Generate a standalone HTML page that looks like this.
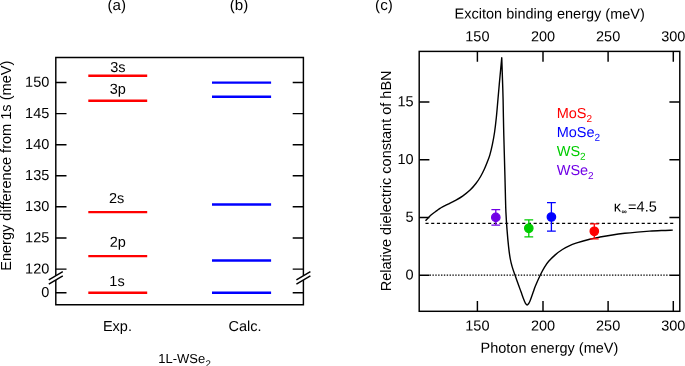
<!DOCTYPE html>
<html><head><meta charset="utf-8"><title>Figure</title>
<style>html,body{margin:0;padding:0;background:#fff}svg{display:block;will-change:transform}text{font-family:"Liberation Sans",sans-serif;fill:#000}</style>
</head><body>
<svg width="685" height="366" viewBox="0 0 685 366">
<rect width="685" height="366" fill="#fff"/>
<g stroke="#000" stroke-width="1.45" fill="none" stroke-linecap="butt">
<path d="M55.8,304.8 V280.0 M55.8,275.8 V57.5 H303.4 V275.8 M303.4,280.0 V304.8 H55.074999999999996"/>
<path d="M55.8,82.5 H66.5 M303.4,82.5 H292.7"/>
<path d="M55.8,113.6 H66.5 M303.4,113.6 H292.7"/>
<path d="M55.8,144.7 H66.5 M303.4,144.7 H292.7"/>
<path d="M55.8,175.8 H66.5 M303.4,175.8 H292.7"/>
<path d="M55.8,206.8 H66.5 M303.4,206.8 H292.7"/>
<path d="M55.8,238.0 H66.5 M303.4,238.0 H292.7"/>
<path d="M55.8,269.1 H66.5 M303.4,269.1 H292.7"/>
<path d="M55.8,292.7 H66.5 M303.4,292.7 H292.7"/>
<path d="M48.8,279.8 L62.8,271.7 M48.8,284.1 L62.8,275.9"/>
<path d="M296.4,279.8 L310.4,271.7 M296.4,284.1 L310.4,275.9"/>
</g>
<text transform="translate(49.3,86.8) rotate(0.03)" font-size="14.5" text-anchor="end">150</text>
<text transform="translate(49.3,117.9) rotate(0.03)" font-size="14.5" text-anchor="end">145</text>
<text transform="translate(49.3,149.0) rotate(0.03)" font-size="14.5" text-anchor="end">140</text>
<text transform="translate(49.3,180.1) rotate(0.03)" font-size="14.5" text-anchor="end">135</text>
<text transform="translate(49.3,211.1) rotate(0.03)" font-size="14.5" text-anchor="end">130</text>
<text transform="translate(49.3,242.3) rotate(0.03)" font-size="14.5" text-anchor="end">125</text>
<text transform="translate(49.3,273.4) rotate(0.03)" font-size="14.5" text-anchor="end">120</text>
<text transform="translate(49.3,297.0) rotate(0.03)" font-size="14.5" text-anchor="end">0</text>
<g stroke-width="2.4" fill="none">
<path stroke="#ff0000" d="M88.3,75.7 H147.2"/>
<path stroke="#ff0000" d="M88.3,100.7 H147.2"/>
<path stroke="#ff0000" d="M88.3,212.1 H147.2"/>
<path stroke="#ff0000" d="M88.3,256.1 H147.2"/>
<path stroke="#ff0000" d="M88.3,292.7 H147.2"/>
<path stroke="#0000ff" d="M212,82.6 H271.1"/>
<path stroke="#0000ff" d="M212,96.7 H271.1"/>
<path stroke="#0000ff" d="M212,204.5 H271.1"/>
<path stroke="#0000ff" d="M212,260.5 H271.1"/>
<path stroke="#0000ff" d="M212,292.7 H271.1"/>
</g>
<text transform="translate(117.8,72.0) rotate(0.03)" font-size="14.5" text-anchor="middle">3s</text>
<text transform="translate(117.8,93.8) rotate(0.03)" font-size="14.5" text-anchor="middle">3p</text>
<text transform="translate(116.7,203.0) rotate(0.03)" font-size="14.5" text-anchor="middle">2s</text>
<text transform="translate(117.8,246.8) rotate(0.03)" font-size="14.5" text-anchor="middle">2p</text>
<text transform="translate(117.0,286.0) rotate(0.03)" font-size="14.5" text-anchor="middle">1s</text>
<text transform="translate(116.7,10.0) rotate(0.03)" font-size="15.1" text-anchor="middle">(a)</text>
<text transform="translate(239.0,10.0) rotate(0.03)" font-size="15.1" text-anchor="middle">(b)</text>
<text transform="translate(383.9,10.0) rotate(0.03)" font-size="15.1" text-anchor="middle">(c)</text>
<text transform="translate(117.4,331) rotate(0.03)" font-size="14.5" text-anchor="middle">Exp.</text>
<text transform="translate(245.0,331) rotate(0.03)" font-size="14.5" text-anchor="middle">Calc.</text>
<text transform="translate(158.2,362.9) rotate(0.03)" font-size="13">1L-WSe<tspan font-size="9.7" dy="4.0" dx="0.3">2</tspan></text>
<text transform="translate(10.7,165.75) rotate(-90)" font-size="14.57" text-anchor="middle">Energy difference from 1s (meV)</text>
<g stroke="#000" stroke-width="1.45" fill="none">
<rect x="419.2" y="51.4" width="260.59999999999997" height="259.90000000000003"/>
<path d="M477.4,51.4 V61.8 M477.4,311.3 V300.90000000000003"/>
<path d="M543.0,51.4 V61.8 M543.0,311.3 V300.90000000000003"/>
<path d="M608.1,51.4 V61.8 M608.1,311.3 V300.90000000000003"/>
<path d="M673.3,51.4 V61.8 M673.3,311.3 V300.90000000000003"/>
<path d="M419.2,102.0 H429.4 M679.8,102.0 H669.4"/>
<path d="M419.2,159.7 H429.4 M679.8,159.7 H669.4"/>
<path d="M419.2,217.4 H429.4 M679.8,217.4 H669.4"/>
<path d="M419.2,275.2 H429.4 M679.8,275.2 H669.4"/>
</g>
<text transform="translate(477.4,41.3) rotate(0.03)" font-size="14.5" text-anchor="middle">150</text>
<text transform="translate(477.4,330.6) rotate(0.03)" font-size="14.5" text-anchor="middle">150</text>
<text transform="translate(543.0,41.3) rotate(0.03)" font-size="14.5" text-anchor="middle">200</text>
<text transform="translate(543.0,330.6) rotate(0.03)" font-size="14.5" text-anchor="middle">200</text>
<text transform="translate(608.1,41.3) rotate(0.03)" font-size="14.5" text-anchor="middle">250</text>
<text transform="translate(608.1,330.6) rotate(0.03)" font-size="14.5" text-anchor="middle">250</text>
<text transform="translate(673.3,41.3) rotate(0.03)" font-size="14.5" text-anchor="middle">300</text>
<text transform="translate(673.3,330.6) rotate(0.03)" font-size="14.5" text-anchor="middle">300</text>
<text transform="translate(413.6,106.3) rotate(0.03)" font-size="14.5" text-anchor="end">15</text>
<text transform="translate(413.6,164.0) rotate(0.03)" font-size="14.5" text-anchor="end">10</text>
<text transform="translate(413.6,221.7) rotate(0.03)" font-size="14.5" text-anchor="end">5</text>
<text transform="translate(413.6,279.5) rotate(0.03)" font-size="14.5" text-anchor="end">0</text>
<text transform="translate(549.7,18.6) rotate(0.03)" font-size="14.5" text-anchor="middle">Exciton binding energy (meV)</text>
<text transform="translate(549.4,352.8) rotate(0.03)" font-size="14.5" text-anchor="middle">Photon energy (meV)</text>
<text transform="translate(391.3,180.9) rotate(-90)" font-size="14.5" text-anchor="middle">Relative dielectric constant of hBN</text>
<path d="M429.6,275.2 H669.4" stroke="#000" stroke-width="1.2" stroke-dasharray="1.4 1.45" fill="none"/>
<path d="M425.5,223.4 H673.5" stroke="#000" stroke-width="1.3" stroke-dasharray="3.1 2.59" fill="none"/>
<path d="M425.50,220.80C425.93,220.33 427.18,218.97 428.10,218.00C429.02,217.03 429.53,216.23 431.00,215.00C432.47,213.77 435.40,211.70 436.90,210.60C438.40,209.50 438.23,209.43 440.00,208.40C441.77,207.37 445.00,205.70 447.50,204.40C450.00,203.10 452.48,201.98 455.00,200.60C457.52,199.22 460.08,197.85 462.60,196.10C465.12,194.35 467.85,192.23 470.10,190.10C472.35,187.97 474.35,185.57 476.10,183.30C477.85,181.03 479.22,178.88 480.60,176.50C481.98,174.12 483.28,171.42 484.40,169.00C485.52,166.58 486.40,164.32 487.30,162.00C488.20,159.68 488.95,158.03 489.80,155.10C490.65,152.17 491.60,148.25 492.40,144.40C493.20,140.55 493.95,136.43 494.60,132.00C495.25,127.57 495.75,123.13 496.30,117.80C496.85,112.47 497.40,105.63 497.90,100.00C498.40,94.37 498.85,89.00 499.30,84.00C499.75,79.00 500.19,74.38 500.60,70.00C501.01,65.62 501.37,61.80 501.75,57.70C502.00,65.13 502.27,72.95 502.50,80.00C502.73,87.05 502.92,92.23 503.10,100.00C503.28,107.77 503.40,117.72 503.60,126.60C503.80,135.48 504.08,145.23 504.30,153.30C504.52,161.37 504.72,168.05 504.90,175.00C505.08,181.95 505.23,188.85 505.40,195.00C505.57,201.15 505.63,206.17 505.90,211.90C506.17,217.63 506.55,223.57 507.00,229.40C507.45,235.23 508.07,242.05 508.60,246.90C509.13,251.75 509.60,255.17 510.20,258.50C510.80,261.83 511.42,264.18 512.20,266.90C512.98,269.62 513.80,271.65 514.90,274.80C516.00,277.95 517.78,282.97 518.80,285.80C519.82,288.63 520.30,289.85 521.00,291.80C521.70,293.75 522.43,295.97 523.00,297.50C523.57,299.03 523.97,300.00 524.40,301.00C524.83,302.00 525.15,302.83 525.60,303.50C526.05,304.17 526.58,305.00 527.10,305.00C527.62,305.00 528.22,304.17 528.70,303.50C529.18,302.83 529.57,302.00 530.00,301.00C530.43,300.00 530.75,299.03 531.30,297.50C531.85,295.97 532.60,293.75 533.30,291.80C534.00,289.85 534.33,288.60 535.50,285.80C536.67,283.00 538.82,278.08 540.30,275.00C541.78,271.92 543.00,269.58 544.40,267.30C545.80,265.02 546.85,263.42 548.70,261.30C550.55,259.18 553.22,256.57 555.50,254.60C557.78,252.63 560.12,250.97 562.40,249.50C564.68,248.03 566.93,246.85 569.20,245.80C571.47,244.75 572.58,244.30 576.00,243.20C579.42,242.10 585.70,240.22 589.70,239.20C593.70,238.17 596.22,237.76 600.00,237.05C603.78,236.34 608.27,235.57 612.40,234.95C616.53,234.32 620.67,233.78 624.80,233.30C628.93,232.83 633.07,232.46 637.20,232.10C641.33,231.74 645.47,231.42 649.60,231.15C653.73,230.88 658.13,230.68 662.00,230.50C665.87,230.32 671.00,230.17 672.80,230.10" stroke="#000" stroke-width="1.4" fill="none" stroke-linejoin="round"/>
<g stroke="#7000e6" stroke-width="1.3" fill="#7000e6"><path d="M495.8,209.6 V225.1 M491.40000000000003,209.6 H500.2 M491.40000000000003,225.1 H500.2" fill="none"/><circle cx="495.8" cy="217.4" r="4.2"/></g>
<g stroke="#00cc00" stroke-width="1.3" fill="#00cc00"><path d="M528.8,219.8 V236.8 M524.4,219.8 H533.1999999999999 M524.4,236.8 H533.1999999999999" fill="none"/><circle cx="528.8" cy="228.3" r="4.2"/></g>
<g stroke="#0000ff" stroke-width="1.3" fill="#0000ff"><path d="M551.4,202.6 V231.1 M547.0,202.6 H555.8 M547.0,231.1 H555.8" fill="none"/><circle cx="551.4" cy="217.0" r="4.2"/></g>
<g stroke="#ff0000" stroke-width="1.3" fill="#ff0000"><path d="M594.3,223.9 V238.8 M589.9,223.9 H598.6999999999999 M589.9,238.8 H598.6999999999999" fill="none"/><circle cx="594.3" cy="231.3" r="4.2"/></g>
<text transform="translate(556.7,118.1) rotate(0.03)" font-size="14.5" style="fill:#ff0000">MoS<tspan font-size="10" dy="3.9">2</tspan></text>
<text transform="translate(556.7,136.9) rotate(0.03)" font-size="14.5" style="fill:#0000ff">MoSe<tspan font-size="10" dy="3.9">2</tspan></text>
<text transform="translate(556.7,155.9) rotate(0.03)" font-size="14.5" style="fill:#00cc00">WS<tspan font-size="10" dy="3.9">2</tspan></text>
<text transform="translate(556.7,175.0) rotate(0.03)" font-size="14.5" style="fill:#7000e6">WSe<tspan font-size="10" dy="3.9">2</tspan></text>
<text transform="translate(613.7,211.6) rotate(0.03)" font-size="14.5">κ</text>
<text transform="translate(621.6,214.0) rotate(0.03)" font-size="7.5" font-weight="bold">∞</text>
<text transform="translate(628.1,211.6) rotate(0.03)" font-size="14.5">=4.5</text>
</svg>
</body></html>
